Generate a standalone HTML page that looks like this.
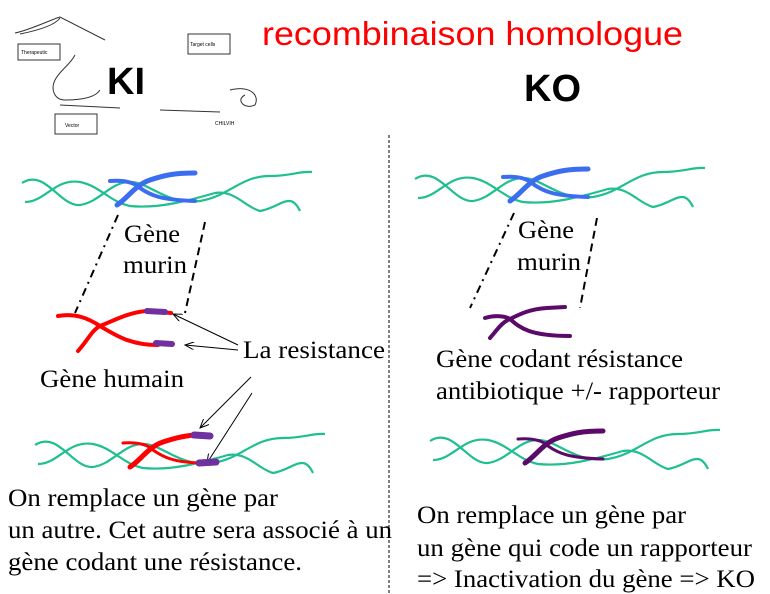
<!DOCTYPE html>
<html><head><meta charset="utf-8"><style>
body{margin:0;background:#fff;}
svg{display:block;}
.s{font-family:"Liberation Serif",serif;font-size:25px;fill:#000;}
.g{fill:none;stroke:#1fbf8f;stroke-width:2.2;}
</style></head><body>
<svg width="770" height="594" viewBox="0 0 770 594" xmlns="http://www.w3.org/2000/svg">
<defs>
<g id="dna">
<path class="g" d="M22,183 C45,168 60,207 80,205 C100,202 110,182 130,182 C150,182 165,205 200,201 C230,196 240,176 270,176 C290,176 300,171 312,172"/>
<path class="g" d="M25,202 C45,202 55,178 80,182 C100,186 110,202 130,206 C160,209 190,200 215,193 C235,190 245,207 260,211 C280,208 290,190 300,211"/>
</g>
<marker id="ah" markerWidth="10" markerHeight="8" refX="9" refY="4" orient="auto" markerUnits="userSpaceOnUse"><path d="M0,0 L9,4 L0,8" fill="none" stroke="#000" stroke-width="1"/></marker>
</defs>
<!-- sketch -->
<g fill="none" stroke="#333" stroke-width="1">
<rect x="18" y="44" width="42" height="16"/>
<rect x="188" y="34" width="42" height="20"/>
<rect x="55" y="114" width="42" height="20"/>
<path d="M15,33 C30,30 50,20 60,17 L105,40 M20,34 C40,30 55,25 60,18" />
<path d="M75,55 C70,65 60,70 55,80 C50,90 55,100 65,100 C80,100 95,98 100,90 M60,105 L120,108"/>
<path d="M230,90 C250,85 260,95 255,105 C245,110 235,100 245,95 M160,110 L220,112"/>
</g>
<text x="21" y="54" font-family="Liberation Sans" font-size="5">Therapeutic</text>
<text x="190" y="46" font-family="Liberation Sans" font-size="5">Target cells</text>
<text x="65" y="127" font-family="Liberation Sans" font-size="5">Vector</text>
<text x="215" y="125" font-family="Liberation Sans" font-size="5">CHILVIH</text>
<rect x="100" y="60" width="60" height="45" fill="#fff"/>
<text x="107" y="94" font-family="Liberation Sans" font-weight="bold" font-size="38">KI</text>
<text x="524" y="101" font-family="Liberation Sans" font-weight="bold" font-size="38">KO</text>
<text x="262" y="45" font-family="Liberation Sans" font-size="33" fill="#f00" textLength="421" lengthAdjust="spacingAndGlyphs">recombinaison homologue</text>
<line x1="389" y1="135" x2="389" y2="594" stroke="#000" stroke-width="1" stroke-dasharray="3,2"/>

<use href="#dna"/>
<g fill="none" stroke="#3a6df0" stroke-linecap="round">
<path d="M110,181 C125,180 135,183 140,188 C150,195 160,200 195,201" stroke-width="4"/>
<path d="M117,205 C128,198 135,185 150,180 C165,175 175,173 195,173" stroke-width="5"/>
</g>
<use href="#dna" transform="translate(393,-4)"/>
<g fill="none" stroke="#3a6df0" stroke-linecap="round" transform="translate(393,-4)">
<path d="M110,181 C125,180 135,183 140,188 C150,195 160,200 195,201" stroke-width="4"/>
<path d="M117,205 C128,198 135,185 150,180 C165,175 175,173 195,173" stroke-width="5"/>
</g>
<g stroke="#000" stroke-width="2" fill="none">
<line x1="118" y1="215" x2="75" y2="313" stroke-dasharray="8,5,2,5"/>
<line x1="205" y1="222" x2="185" y2="313" stroke-dasharray="8,5"/>
<line x1="514" y1="213" x2="470" y2="308" stroke-dasharray="8,5,2,5"/>
<line x1="597" y1="218" x2="580" y2="308" stroke-dasharray="8,5"/>
</g>
<text class="s" x="124" y="242" textLength="56" lengthAdjust="spacingAndGlyphs">Gène</text>
<text class="s" x="123" y="273" textLength="64" lengthAdjust="spacingAndGlyphs">murin</text>
<text class="s" x="518" y="238" textLength="56" lengthAdjust="spacingAndGlyphs">Gène</text>
<text class="s" x="517" y="270" textLength="64" lengthAdjust="spacingAndGlyphs">murin</text>

<g fill="none" stroke-linecap="round">
<path d="M58,316 C75,313 88,318 100,326 C115,320 130,312 147,311 L171,313" stroke="#f00" stroke-width="4"/>
<path d="M78,351 C88,340 92,330 100,326 C115,335 130,345 158,345" stroke="#f00" stroke-width="4"/>
<path d="M147,311 L165,312" stroke="#7030a0" stroke-width="6"/>
<path d="M156,343 L172,344" stroke="#7030a0" stroke-width="6"/>
</g>
<g stroke="#000" stroke-width="1" marker-end="url(#ah)">
<line x1="238" y1="345" x2="173" y2="314"/>
<line x1="238" y1="350" x2="185" y2="345"/>
<line x1="251" y1="377" x2="200" y2="428"/>
<line x1="252" y1="393" x2="207" y2="463"/>
</g>
<text class="s" x="243" y="358" textLength="142" lengthAdjust="spacingAndGlyphs">La resistance</text>
<text class="s" x="40" y="387" textLength="144" lengthAdjust="spacingAndGlyphs">Gène humain</text>

<g fill="none" stroke="#5c0a6a" stroke-linecap="round">
<path d="M485,318 C495,315 505,316 510,319 C520,314 530,309 547,308 L565,307" stroke-width="4"/>
<path d="M490,338 C497,330 502,322 510,319 C520,328 530,336 570,336" stroke-width="4"/>
</g>
<text class="s" x="436" y="367" textLength="247" lengthAdjust="spacingAndGlyphs">Gène codant résistance</text>
<text class="s" x="436" y="399" textLength="284" lengthAdjust="spacingAndGlyphs">antibiotique +/- rapporteur</text>

<use href="#dna" transform="translate(13,262)"/>
<g fill="none" stroke-linecap="round" transform="translate(13,262)">
<path d="M110,181 C125,180 135,183 140,188 C150,195 160,200 185,201" stroke="#f00" stroke-width="3"/>
<path d="M117,205 C128,198 135,185 150,180 C165,175 175,173 185,173" stroke="#f00" stroke-width="5"/>
<path d="M181,173 L197,174" stroke="#7030a0" stroke-width="7"/>
<path d="M186,201 L203,200" stroke="#7030a0" stroke-width="7"/>
</g>
<use href="#dna" transform="translate(408,258)"/>
<g fill="none" stroke="#5c0a6a" stroke-linecap="round" transform="translate(408,258)">
<path d="M110,181 C125,180 135,183 140,188 C150,195 160,200 195,201" stroke-width="3"/>
<path d="M117,205 C128,198 135,185 150,180 C165,175 175,173 195,173" stroke-width="5"/>
</g>

<text class="s" x="8" y="506" textLength="270" lengthAdjust="spacingAndGlyphs">On remplace un gène par</text>
<text class="s" x="8" y="538" textLength="384" lengthAdjust="spacingAndGlyphs">un autre. Cet autre sera associé à un</text>
<text class="s" x="8" y="570" textLength="294" lengthAdjust="spacingAndGlyphs">gène codant une résistance.</text>
<text class="s" x="417" y="523" textLength="269" lengthAdjust="spacingAndGlyphs">On remplace un gène par</text>
<text class="s" x="417" y="556" textLength="335" lengthAdjust="spacingAndGlyphs">un gène qui code un rapporteur</text>
<text class="s" x="417" y="587" textLength="338" lengthAdjust="spacingAndGlyphs">=&gt; Inactivation du gène =&gt; KO</text>
</svg>
</body></html>
